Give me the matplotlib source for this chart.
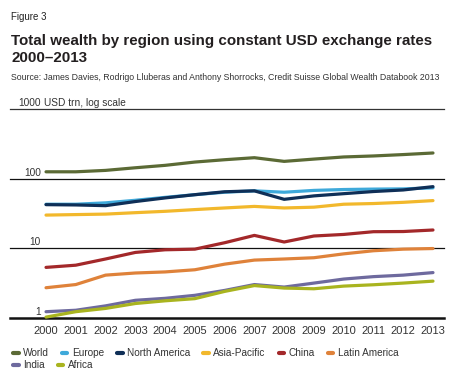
import matplotlib
matplotlib.use("Agg")
import matplotlib.pyplot as plt
from matplotlib.lines import Line2D
import matplotlib.transforms as mtransforms

plt.rcParams['font.family'] = ['Liberation Sans', 'DejaVu Sans']

years = list(range(2000, 2014))
world = [126, 126, 132, 144, 156, 174, 188, 201, 178, 192, 206, 213, 223, 235]
europe = [43, 43, 45, 49, 54, 59, 64, 67, 64, 68, 70, 71, 71.5, 74]
north_america = [42.4, 42, 41, 47, 53, 59, 65, 67, 50.6, 56.7, 61, 65.5, 69, 77]
asia_pacific = [30, 30.5, 31, 32.5, 34, 36, 38, 40, 38, 39, 43, 44, 45.8, 48.5]
china = [5.3, 5.7, 7.0, 8.7, 9.5, 9.7, 12.0, 15.3, 12.3, 15.0, 15.8, 17.3, 17.4, 18.3]
latin_america = [2.7, 3.0, 4.1, 4.4, 4.56, 4.9, 5.9, 6.75, 7.0, 7.3, 8.3, 9.2, 9.7, 9.9]
india = [1.22, 1.28, 1.48, 1.78, 1.9, 2.1, 2.47, 3.0, 2.76, 3.15, 3.6, 3.9, 4.1, 4.46]
africa = [1.02, 1.22, 1.36, 1.6, 1.75, 1.88, 2.39, 2.9, 2.67, 2.61, 2.85, 2.98, 3.15, 3.36]

series = [
    ("World", world, "#5b6a35"),
    ("Europe", europe, "#3ea9da"),
    ("North America", north_america, "#0f2f57"),
    ("Asia-Pacific", asia_pacific, "#f2b82c"),
    ("China", china, "#a3282a"),
    ("Latin America", latin_america, "#df823a"),
    ("India", india, "#6e6a9e"),
    ("Africa", africa, "#a9b41f"),
]
y_ticks = [1, 10, 100, 1000]
y_tick_labels = ["1", "10", "100", "1000"]

fig = plt.figure(figsize=(4.58, 3.80), dpi=100)
ax = fig.add_axes([10/458, 1 - 317.7/380, 434/458, (317.7 - 109.3)/380])

draw_order = ["World", "Asia-Pacific", "Europe", "North America", "China",
              "Latin America", "India", "Africa"]
lookup = {n: (v, c) for n, v, c in series}
for z, name in enumerate(draw_order):
    v, c = lookup[name]
    ax.plot(years, v, color=c, lw=2.3, solid_capstyle='round',
            solid_joinstyle='round', zorder=3 + z, clip_on=False)

ax.set_yscale('log')
ax.set_ylim(1, 1000)
ax.set_xlim(1998.79, 2013.37)
for s in ax.spines.values():
    s.set_visible(False)
ax.set_yticks([])
ax.yaxis.set_minor_locator(matplotlib.ticker.NullLocator())

for t in y_ticks:
    lw = 1.8 if t == 1 else 0.9
    col = "#111111" if t != 1000 else "#333333"
    ax.axhline(t, color=col, lw=lw, zorder=2, clip_on=False)

trans = mtransforms.blended_transform_factory(ax.transAxes, ax.transData)
for t, lab in zip(y_ticks, y_tick_labels):
    ax.text((41 - 10) / 434, t * 1.035, lab, transform=trans, ha='right',
            va='bottom', fontsize=7.3, color="#333333")
ax.text((44 - 10) / 434, 1000 * 1.035, "USD trn, log scale", transform=trans,
        ha='left', va='bottom', fontsize=7.3, color="#333333")

ax.set_xticks(years)
ax.set_xticklabels([str(y) for y in years], fontsize=8, color="#333333")
ax.tick_params(axis='x', length=0, pad=6)

fig.text(11/458, 1 - 17/380, "Figure 3", fontsize=7, color="#222222",
         va='center', ha='left')
fig.text(11/458, 1 - 45/380, "Total wealth by region using constant USD exchange rates",
         fontsize=10.9, fontweight='bold', color="#231f20", va='baseline', ha='left')
fig.text(11/458, 1 - 62/380, "2000\u20132013",
         fontsize=10.9, fontweight='bold', color="#231f20", va='baseline', ha='left')
fig.text(11/458, 1 - 78/380,
         "Source: James Davies, Rodrigo Lluberas and Anthony Shorrocks, Credit Suisse Global Wealth Databook 2013",
         fontsize=6.3, color="#333333", va='center', ha='left')

def handles(names):
    return [Line2D([0], [0], color=lookup[n][1], lw=3, solid_capstyle='round') for n in names]

row1 = ["World", "Europe", "North America", "Asia-Pacific", "China", "Latin America"]
row2 = ["India", "Africa"]
common = dict(frameon=False, fontsize=7.2, handlelength=0.55, handletextpad=0.45,
              columnspacing=1.3, borderaxespad=0, borderpad=0, labelcolor="#333333")
leg1 = fig.legend(handles(row1), row1, ncol=6, loc='center left',
                  bbox_to_anchor=(13/458, 1 - 353/380), **common)
leg2 = fig.legend(handles(row2), row2, ncol=2, loc='center left',
                  bbox_to_anchor=(13/458, 1 - 365/380), **common)

fig.savefig("out.png", dpi=100, facecolor='white')
